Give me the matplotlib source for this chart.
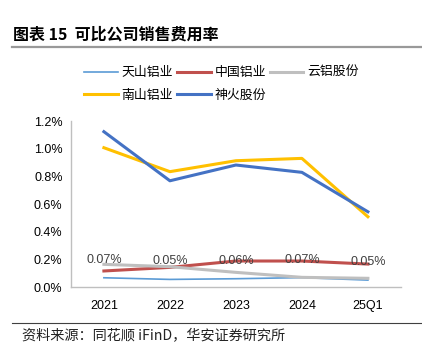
import matplotlib
matplotlib.use("Agg")
import matplotlib.pyplot as plt

plt.rcParams['font.family'] = ['Liberation Sans', 'Noto Sans CJK SC', 'DejaVu Sans']

# data (%)
years = ['2021', '2022', '2023', '2024', '25Q1']
tianshan = [0.067, 0.055, 0.060, 0.068, 0.050]
zhonglv = [0.116, 0.142, 0.188, 0.188, 0.166]
yunlv = [0.164, 0.147, 0.106, 0.070, 0.063]
nanshan = [1.007, 0.834, 0.913, 0.930, 0.508]
shenhuo = [1.123, 0.768, 0.882, 0.829, 0.544]
tianshan_labels = ['0.07%', '0.05%', '0.06%', '0.07%', '0.05%']

fig = plt.figure(figsize=(4.22, 3.57), dpi=100)
ax = fig.add_axes([0.168, 0.196, 0.782, 0.465])

x = range(len(years))
l1, = ax.plot(x, tianshan, color='#5B9BD5', lw=1.2, label='天山铝业')
l2, = ax.plot(x, zhonglv, color='#C0504D', lw=2.2, label='中国铝业')
l3, = ax.plot(x, yunlv, color='#BFBFBF', lw=2.2, label='云铝股份')
l4, = ax.plot(x, nanshan, color='#FFC000', lw=2.2, label='南山铝业')
l5, = ax.plot(x, shenhuo, color='#4472C4', lw=2.2, label='神火股份')

# data labels for 天山铝业
for i, v in enumerate(tianshan):
    ax.annotate(tianshan_labels[i], (i, v), xytext=(0, 13), textcoords='offset points',
                ha='center', va='center', fontsize=9, color='#404040')

ax.set_xlim(-0.5, len(years) - 0.5)
ax.set_ylim(0, 1.2)
ax.set_yticks([0, 0.2, 0.4, 0.6, 0.8, 1.0, 1.2])
ax.set_yticklabels(['%.1f%%' % t for t in [0, 0.2, 0.4, 0.6, 0.8, 1.0, 1.2]])
ax.set_xticks(list(x))
ax.set_xticklabels(years)
ax.tick_params(length=0, labelsize=9, colors='#000000', pad=6)
ax.tick_params(axis='x', pad=9)
for s in ['top', 'right']:
    ax.spines[s].set_visible(False)
for s in ['left', 'bottom']:
    ax.spines[s].set_color('#BFBFBF')
    ax.spines[s].set_linewidth(1)

# legend filled column by column, so order gives rows: 天山 中国 云铝 / 南山 神火
handles = [l1, l4, l2, l5, l3]
fig.legend(handles, [h.get_label() for h in handles], loc='center',
           bbox_to_anchor=(0.525, 0.765), ncol=3, frameon=False,
           handlelength=2.6, columnspacing=0.3, handletextpad=0.3,
           labelspacing=0.75, prop={'family': 'Noto Sans CJK SC', 'size': 9.3})

# title and source
fig.text(0.03, 0.902, '图表 15  可比公司销售费用率', fontsize=11.5, fontweight='bold',
         va='center', ha='left', family=['Noto Sans CJK SC'])
fig.add_artist(plt.Line2D([0.028, 1.0], [0.868, 0.868], color='#999999', lw=1.6))
fig.add_artist(plt.Line2D([0.028, 1.0], [0.095, 0.095], color='#404040', lw=0.8))
fig.text(0.052, 0.057, '资料来源：同花顺 iFinD，华安证券研究所', fontsize=10.2,
         va='center', ha='left', color='#222222', family=['Noto Sans CJK SC'])

fig.savefig('out.png', dpi=100)
